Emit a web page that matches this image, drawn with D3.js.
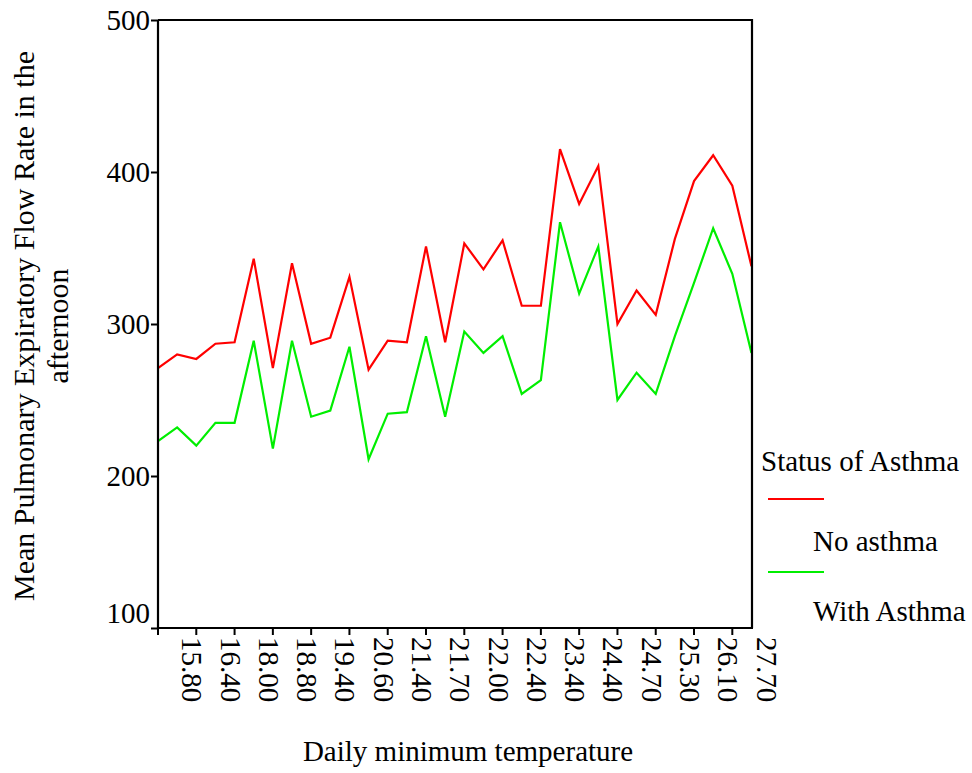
<!DOCTYPE html>
<html>
<head>
<meta charset="utf-8">
<script src="https://cdn.jsdelivr.net/npm/d3@7"></script>
<style>
  html, body { margin: 0; padding: 0; background: #fff; }
  svg { display: block; font-family: "Liberation Serif", "Times New Roman", serif; }
</style>
</head>
<body>
<svg id="chart" width="972" height="773"></svg>
<script>
// ---- data ----
// category positions (index along the axis); labelled every other category
const categoryCount = 33;
const tickIndices = [2, 4, 6, 8, 10, 12, 14, 16, 18, 20, 22, 24, 26, 28, 30, 32];
const tickLabels = ["15.80", "16.40", "18.00", "18.80", "19.40", "20.60", "21.40", "21.70",
                    "22.00", "22.40", "23.40", "24.40", "24.70", "25.30", "26.10", "27.70"];
const noAsthma = [271, 280, 277, 287, 288, 343, 271, 340, 287, 291, 331, 270, 289, 288, 351, 288,
                  353, 336, 355, 312, 312, 415, 379, 404, 300, 322, 306, 356, 394, 411, 391, 338];
const withAsthma = [223, 232, 220, 235, 235, 289, 218, 289, 239, 243, 285, 211, 241, 242, 292, 239,
                    295, 281, 292, 254, 263, 367, 320, 351, 250, 268, 254, 292, 327, 363, 333, 281];
const yTicks = [100, 200, 300, 400, 500];
const seriesNames = ["No asthma", "With Asthma"];
const seriesColors = ["#ff0000", "#00ee00"];

// ---- layout ----
const svg = d3.select("#chart");
const pL = 158, pR = 752, pT = 20, pB = 628;
const x = d3.scalePoint().domain(d3.range(categoryCount)).range([158, 770.6]);
const y = d3.scaleLinear().domain([100, 500]).range([pB, pT]);
const FS = 29;

svg.append("rect").attr("width", 972).attr("height", 773).attr("fill", "#fff");

svg.append("defs").append("clipPath").attr("id", "plotclip")
  .append("rect").attr("x", pL).attr("y", pT - 5).attr("width", pR - pL).attr("height", pB - pT + 10);

// lines
const line = d3.line().x((d, i) => x(i)).y(d => y(d));
const plot = svg.append("g").attr("clip-path", "url(#plotclip)");
[noAsthma, withAsthma].forEach((s, k) => {
  plot.append("path").datum(s).attr("d", line)
    .attr("fill", "none").attr("stroke", seriesColors[k]).attr("stroke-width", 2.2)
    .attr("stroke-linejoin", "miter");
});

// frame (top and right)
svg.append("path")
  .attr("d", `M${pL},${pT}H${pR}V${pB}`)
  .attr("fill", "none").attr("stroke", "#000").attr("stroke-width", 2.2);

// y axis
const yAxis = svg.append("g").attr("transform", `translate(${pL},0)`)
  .call(d3.axisLeft(y).tickValues(yTicks).tickSize(7).tickSizeOuter(0).tickFormat(d3.format("d")));
yAxis.select(".domain").attr("stroke-width", 2.2).attr("d", `M0,${pT}V${pB}`);
yAxis.selectAll(".tick line").attr("stroke-width", 2);
yAxis.selectAll(".tick text")
  .attr("font-size", FS).attr("font-family", "Liberation Serif, serif").attr("fill", "#000")
  .attr("x", -8).attr("dy", d => d === 100 ? "-0.18em" : "0.34em");

// x axis
const xAxis = svg.append("g").attr("transform", `translate(0,${pB})`);
xAxis.append("line").attr("x1", pL - 1).attr("x2", pR + 1).attr("y1", 0).attr("y2", 0)
  .attr("stroke", "#000").attr("stroke-width", 2.2);
const evenTicks = d3.range(0, categoryCount, 2).filter(i => x(i) <= pR + 1);
xAxis.selectAll("line.tk").data(evenTicks).join("line").attr("class", "tk")
  .attr("x1", d => x(d)).attr("x2", d => x(d)).attr("y1", 0).attr("y2", 7)
  .attr("stroke", "#000").attr("stroke-width", 2);
xAxis.selectAll("text.lbl").data(tickIndices).join("text").attr("class", "lbl")
  .attr("transform", d => `translate(${x(d)},9) rotate(90)`)
  .attr("x", 0).attr("y", 14)
  .attr("text-anchor", "start").attr("font-size", FS).attr("fill", "#000")
  .text((d, i) => tickLabels[i]);

// axis titles
svg.append("text").attr("x", 468).attr("y", 761).attr("text-anchor", "middle")
  .attr("font-size", FS).attr("fill", "#000").text("Daily minimum temperature");

const yt = svg.append("g").attr("transform", "translate(0,326) rotate(-90)");
yt.append("text").attr("x", 0).attr("y", 34).attr("text-anchor", "middle")
  .attr("font-size", 30).attr("fill", "#000").text("Mean Pulmonary Expiratory Flow Rate in the");
yt.append("text").attr("x", 0).attr("y", 68).attr("text-anchor", "middle")
  .attr("font-size", 30).attr("fill", "#000").text("afternoon");

// legend
const lg = svg.append("g");
lg.append("text").attr("x", 761).attr("y", 471).attr("font-size", FS).attr("fill", "#000").text("Status of Asthma");
const lineYs = [499, 572];
const textYs = [551, 621];
seriesNames.forEach((n, k) => {
  lg.append("line").attr("x1", 768).attr("x2", 824).attr("y1", lineYs[k]).attr("y2", lineYs[k])
    .attr("stroke", seriesColors[k]).attr("stroke-width", 2.2);
  lg.append("text").attr("x", 813).attr("y", textYs[k]).attr("font-size", FS).attr("fill", "#000").text(n);
});
</script>
</body>
</html>
